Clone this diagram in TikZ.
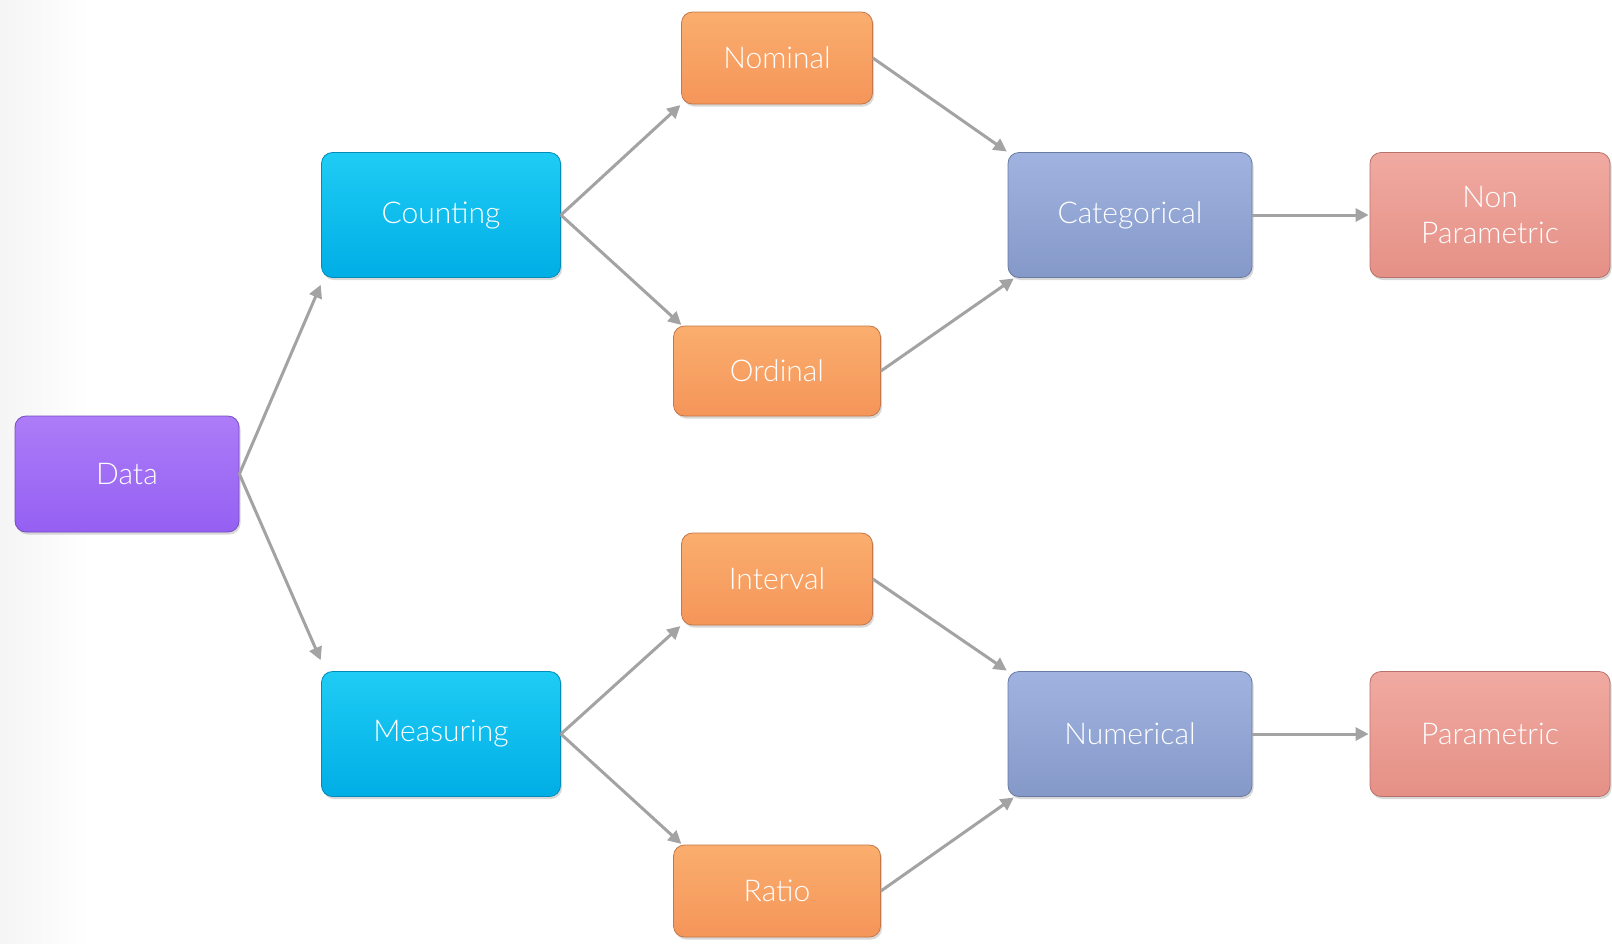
\documentclass[tikz,border=0pt]{standalone}
\usepackage{fontspec}
\IfFontExistsTF{Lato Light}{\setmainfont{Lato Light}}{\setmainfont{Carlito}}
\usetikzlibrary{arrows.meta,shadows,calc}
\definecolor{arrowgray}{HTML}{A3A3A3}
\tikzset{
  box/.style={rounded corners=11pt, draw=#1!80!black, line width=0.8pt, text=white,
    font=\fontsize{30}{36}\selectfont, align=center, inner sep=0pt,
    drop shadow={opacity=0.3, shadow xshift=1.5pt, shadow yshift=-2.5pt}},
  databox/.style={box=datac, top color=datatop, bottom color=datac},
  countbox/.style={box=countc, top color=counttop, bottom color=countc},
  levelbox/.style={box=levelc, top color=leveltop, bottom color=levelc},
  typebox/.style={box=typec, top color=typetop, bottom color=typec},
  testbox/.style={box=testc, top color=testtop, bottom color=testc},
  conn/.style={draw=arrowgray, line width=3pt, -{Triangle[length=13pt,width=13pt]}, shorten >=1pt},
}
\definecolor{datac}{HTML}{9560F2}
\definecolor{datatop}{HTML}{AC7CF8}
\definecolor{countc}{HTML}{00AEE6}
\definecolor{counttop}{HTML}{1FCCF4}
\definecolor{levelc}{HTML}{F5955A}
\definecolor{leveltop}{HTML}{FAAE6E}
\definecolor{typec}{HTML}{8599C9}
\definecolor{typetop}{HTML}{A0B3E0}
\definecolor{testc}{HTML}{E59086}
\definecolor{testtop}{HTML}{F0AAA1}
\begin{document}
\begin{tikzpicture}[x=1pt,y=-1pt]
\useasboundingbox (0,0) rectangle (1612,943);
\fill[white] (0,0) rectangle (1612,943);
\shade[left color=black!4, right color=white] (0,0) rectangle (90,943);
% nodes
\node[databox, minimum width=224pt, minimum height=116pt] (data) at (127,474) {Data};
\node[countbox, minimum width=239pt, minimum height=125pt] (counting) at (441,215) {Counting};
\node[countbox, minimum width=239pt, minimum height=125pt] (measuring) at (441,734) {Measuring};
\node[levelbox, minimum width=191pt, minimum height=92pt] (nominal) at (777,58) {Nominal};
\node[levelbox, minimum width=207pt, minimum height=90pt] (ordinal) at (777,371) {Ordinal};
\node[levelbox, minimum width=191pt, minimum height=92pt] (interval) at (777,579) {Interval};
\node[levelbox, minimum width=207pt, minimum height=92pt] (ratio) at (777,891) {Ratio};
\node[typebox, minimum width=244pt, minimum height=125pt] (categorical) at (1130,215) {Categorical};
\node[typebox, minimum width=244pt, minimum height=125pt] (numerical) at (1130,734) {Numerical};
\node[testbox, minimum width=240pt, minimum height=125pt] (nonpar) at (1490,215) {Non\\Parametric};
\node[testbox, minimum width=240pt, minimum height=125pt] (par) at (1490,734) {Parametric};
% connectors
\draw[conn] (data.east) -- ($(counting.south west)+(0,6)$);
\draw[conn] (data.east) -- ($(measuring.north west)+(0,-10)$);
\draw[conn] (counting.east) -- (nominal.south west);
\draw[conn] (counting.east) -- ($(ordinal.north west)+(9,0)$);
\draw[conn] (measuring.east) -- (interval.south west);
\draw[conn] (measuring.east) -- ($(ratio.north west)+(9,0)$);
\draw[conn] (nominal.east) -- (categorical.north west);
\draw[conn] (ordinal.east) -- ($(categorical.south west)+(7,0)$);
\draw[conn] (interval.east) -- (numerical.north west);
\draw[conn] (ratio.east) -- ($(numerical.south west)+(7,0)$);
\draw[conn] (categorical.east) -- (nonpar.west);
\draw[conn] (numerical.east) -- (par.west);
\end{tikzpicture}
\end{document}
